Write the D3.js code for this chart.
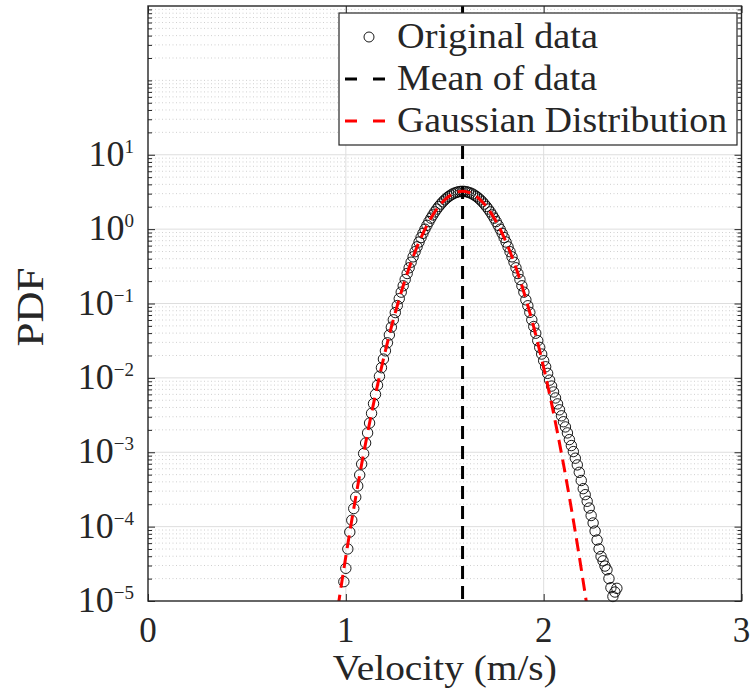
<!DOCTYPE html>
<html><head><meta charset="utf-8">
<script src="https://cdn.jsdelivr.net/npm/d3@7"></script>
<style>
body{margin:0;background:#fff}
svg{display:block}
text{font-family:"Liberation Serif","Times New Roman",serif;fill:#262626}
</style>
</head><body><svg id="c" width="751" height="692"></svg>
<script>
// ---------- data ----------
const velocity = [0.99,1.00,1.01,1.02,1.03,1.04,1.05,1.06,1.07,1.08,1.09,1.10,1.11,1.12,1.13,1.14,1.15,1.16,1.17,1.18,1.19,
  1.20,1.21,1.22,1.23,1.24,1.25,1.26,1.27,1.28,1.29,1.30,1.31,1.32,1.33,1.34,1.35,1.36,1.37,1.38,1.39,
  1.40,1.41,1.42,1.43,1.44,1.45,1.46,1.47,1.48,1.49,1.50,1.51,1.52,1.53,1.54,1.55,1.56,1.57,1.58,1.59,
  1.60,1.61,1.62,1.63,1.64,1.65,1.66,1.67,1.68,1.69,1.70,1.71,1.72,1.73,1.74,1.75,1.76,1.77,1.78,1.79,
  1.80,1.81,1.82,1.83,1.84,1.85,1.86,1.87,1.88,1.89,1.90,1.91,1.92,1.93,1.94,1.95,1.96,1.97,1.98,1.99,
  2.00,2.01,2.02,2.03,2.04,2.05,2.06,2.07,2.08,2.09,2.10,2.11,2.12,2.13,2.14,2.15,2.16,2.17,2.18,2.19,
  2.20,2.21,2.22,2.23,2.24,2.25,2.26,2.27,2.28,2.29,2.30,2.31,2.32,2.33,2.34,2.35,2.36,2.37];
const pdf = [1.82e-5,2.75e-5,5.01e-5,8.45e-5,1.22e-4,1.75e-4,2.49e-4,3.52e-4,4.95e-4,6.93e-4,9.62e-4,
  1.33e-3,1.82e-3,2.47e-3,3.34e-3,4.50e-3,6.00e-3,7.96e-3,1.05e-2,1.37e-2,1.79e-2,
  2.31e-2,2.96e-2,3.78e-2,4.80e-2,6.04e-2,7.55e-2,9.38e-2,0.116,0.142,0.173,
  0.210,0.253,0.302,0.359,0.424,0.497,0.578,0.670,0.769,0.879,
  0.998,1.125,1.262,1.403,1.552,1.706,1.862,2.018,2.173,2.328,
  2.477,2.618,2.748,2.864,2.972,3.055,3.126,3.177,3.214,3.221,
  3.214,3.177,3.126,3.055,2.972,2.864,2.748,2.618,2.477,2.328,
  2.173,2.018,1.862,1.706,1.552,1.403,1.262,1.125,0.998,0.879,
  0.769,0.670,0.578,0.497,0.424,0.359,0.302,0.253,0.210,0.173,
  0.142,0.112,9.33e-2,7.59e-2,6.03e-2,4.90e-2,3.98e-2,3.16e-2,2.57e-2,2.09e-2,
  1.70e-2,1.41e-2,1.15e-2,9.33e-3,7.76e-3,6.46e-3,5.37e-3,4.47e-3,3.72e-3,3.09e-3,
  2.57e-3,2.19e-3,1.82e-3,1.48e-3,1.23e-3,1.02e-3,8.32e-4,6.76e-4,5.37e-4,4.17e-4,
  3.24e-4,2.69e-4,2.19e-4,1.78e-4,1.41e-4,1.12e-4,8.71e-5,6.61e-5,5.01e-5,3.98e-5,
  3.47e-5,2.95e-5,2.63e-5,2.00e-5,1.51e-5,1.15e-5,1.32e-5,1.48e-5];
const meanVelocity = 1.59;
const gaussVelocity = [0.96,0.99,1.02,1.05,1.08,1.11,1.14,1.17,1.20,1.23,1.26,1.29,1.32,1.35,1.38,1.41,1.44,1.47,1.50,1.53,1.56,
  1.59,1.62,1.65,1.68,1.71,1.74,1.77,1.80,1.83,1.86,1.89,1.92,1.95,1.98,2.01,2.04,2.07,2.10,2.13,2.16,2.19,2.22];
const gaussPdf = [8.17e-6,2.70e-5,8.45e-5,2.49e-4,6.93e-4,1.82e-3,4.50e-3,1.05e-2,2.31e-2,4.80e-2,9.38e-2,0.173,0.302,0.497,0.769,1.125,1.552,2.018,2.477,2.864,3.126,
  3.221,3.126,2.864,2.477,2.018,1.552,1.125,0.769,0.497,0.302,0.173,9.38e-2,4.80e-2,2.31e-2,1.05e-2,4.50e-3,1.82e-3,6.93e-4,2.49e-4,8.45e-5,2.70e-5,8.17e-6];
const xTicks = [0,1,2,3];
const yTickExponents = [-5,-4,-3,-2,-1,0,1];
const xLabel = "Velocity (m/s)";
const yLabel = "PDF";
const legendLabels = ["Original data","Mean of data","Gaussian Distribution"];

// ---------- layout ----------
const L=148, R=741.5, T=6, B=601;
const AX="#262626";
const svg = d3.select("#c");
const x = d3.scaleLinear().domain([0,3]).range([L,R]);
const y = d3.scaleLog().domain([1e-5,1e3]).range([B,T]);

svg.append("defs").append("clipPath").attr("id","clip")
  .append("rect").attr("x",L).attr("y",T).attr("width",R-L).attr("height",B-T);

const minorVals=[];
for(let e=-5;e<=2;e++){for(let m=2;m<=9;m++) minorVals.push(m*Math.pow(10,e));}
minorVals.push(100);
const majorVals = yTickExponents.map(e=>Math.pow(10,e));

// grid
const grid = svg.append("g");
grid.selectAll("line.mn").data(minorVals).join("line")
  .attr("x1",L).attr("x2",R).attr("y1",d=>y(d)).attr("y2",d=>y(d))
  .attr("stroke","#c4c4c4").attr("stroke-width",0.8).attr("stroke-dasharray","1,2.5");
grid.selectAll("line.mj").data(majorVals.filter(v=>v>1e-5)).join("line")
  .attr("x1",L).attr("x2",R).attr("y1",d=>y(d)).attr("y2",d=>y(d))
  .attr("stroke","#dedede").attr("stroke-width",1);
grid.selectAll("line.vx").data(xTicks.filter(v=>v>0&&v<3)).join("line")
  .attr("x1",d=>x(d)).attr("x2",d=>x(d)).attr("y1",T).attr("y2",B)
  .attr("stroke","#dedede").attr("stroke-width",1);

// data circles
svg.append("g").selectAll("circle").data(velocity.map((v,i)=>[v,pdf[i]])).join("circle")
  .attr("cx",d=>x(d[0])).attr("cy",d=>y(d[1])).attr("r",5.2)
  .attr("fill","none").attr("stroke","#000").attr("stroke-width",0.9);

// mean line
svg.append("line").attr("x1",x(meanVelocity)).attr("x2",x(meanVelocity)).attr("y1",T).attr("y2",B)
  .attr("stroke","#000").attr("stroke-width",3).attr("stroke-dasharray","13,7");

// gaussian
const line = d3.line().x(d=>x(d[0])).y(d=>y(d[1])).curve(d3.curveCatmullRom);
svg.append("path").datum(gaussVelocity.map((v,i)=>[v,gaussPdf[i]]))
  .attr("d",line).attr("clip-path","url(#clip)")
  .attr("fill","none").attr("stroke","#ff0000").attr("stroke-width",3).attr("stroke-dasharray","13,7");

// axes ticks (inward)
function styleAxis(g){g.select(".domain").remove();g.selectAll(".tick line").attr("stroke",AX).attr("stroke-width",1);g.selectAll(".tick text").remove();}
svg.append("g").attr("transform",`translate(${L},0)`).call(d3.axisLeft(y).tickValues(majorVals).tickSize(-7)).call(styleAxis);
svg.append("g").attr("transform",`translate(${L},0)`).call(d3.axisLeft(y).tickValues(minorVals).tickSize(-4)).call(styleAxis);
svg.append("g").attr("transform",`translate(${R},0)`).call(d3.axisRight(y).tickValues(majorVals).tickSize(-7)).call(styleAxis);
svg.append("g").attr("transform",`translate(${R},0)`).call(d3.axisRight(y).tickValues(minorVals).tickSize(-4)).call(styleAxis);
svg.append("g").attr("transform",`translate(0,${B})`).call(d3.axisBottom(x).tickValues(xTicks).tickSize(-7)).call(styleAxis);
svg.append("g").attr("transform",`translate(0,${T})`).call(d3.axisTop(x).tickValues(xTicks).tickSize(-7)).call(styleAxis);

// box
svg.append("rect").attr("x",L).attr("y",T).attr("width",R-L).attr("height",B-T)
  .attr("fill","none").attr("stroke",AX).attr("stroke-width",1.4);

// tick labels
svg.append("g").selectAll("text").data(xTicks).join("text")
  .attr("x",d=>x(d)).attr("y",642).attr("text-anchor","middle").attr("font-size",35).text(d=>d);
const yl = svg.append("g").selectAll("text").data(yTickExponents).join("text")
  .attr("x",134).attr("y",d=>y(Math.pow(10,d))+11).attr("text-anchor","end").attr("font-size",36);
yl.append("tspan").text("10");
yl.append("tspan").attr("dy",-13).attr("font-size",19).text(d=>d<0?"\u2212"+(-d):String(d));

// axis labels
svg.append("text").attr("x",(L+R)/2).attr("y",680).attr("text-anchor","middle").attr("font-size",35)
  .attr("textLength",224).attr("lengthAdjust","spacingAndGlyphs").text(xLabel);
svg.append("text").attr("transform","translate(43,307) rotate(-90)").attr("text-anchor","middle").attr("font-size",38)
  .attr("textLength",79).attr("lengthAdjust","spacingAndGlyphs").text(yLabel);

// legend
const lg = svg.append("g");
lg.append("rect").attr("x",339).attr("y",13).attr("width",398).attr("height",132)
  .attr("fill","#fff").attr("stroke",AX).attr("stroke-width",1.2);
const rows=[37,79,121];
const legendWidths=[201,200,330];
lg.append("circle").attr("cx",369).attr("cy",rows[0]).attr("r",5).attr("fill","none").attr("stroke","#000").attr("stroke-width",0.9);
lg.append("line").attr("x1",345).attr("x2",385).attr("y1",rows[1]).attr("y2",rows[1]).attr("stroke","#000").attr("stroke-width",3).attr("stroke-dasharray","12,16");
lg.append("line").attr("x1",345).attr("x2",385).attr("y1",rows[2]).attr("y2",rows[2]).attr("stroke","#ff0000").attr("stroke-width",3).attr("stroke-dasharray","12,16");
lg.selectAll("text").data(legendLabels).join("text")
  .attr("x",397).attr("y",(d,i)=>rows[i]+11).attr("font-size",36)
  .attr("textLength",(d,i)=>legendWidths[i]).attr("lengthAdjust","spacingAndGlyphs").text(d=>d);
</script></body></html>
